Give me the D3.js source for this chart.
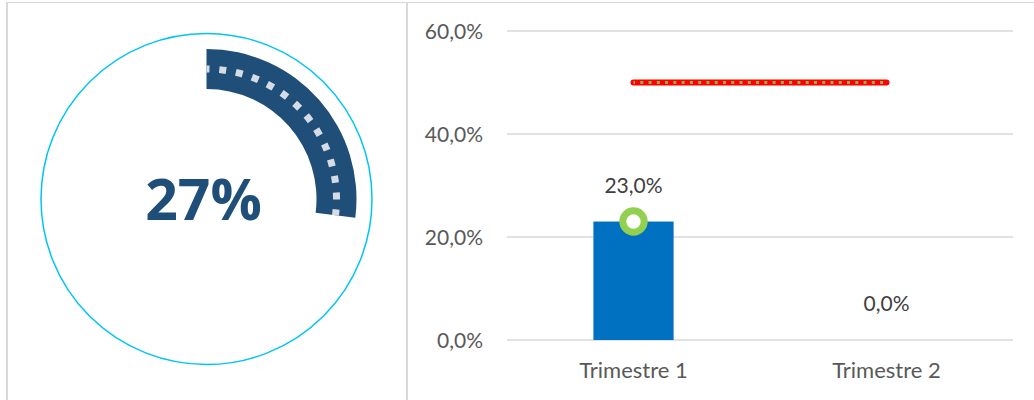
<!DOCTYPE html>
<html>
<head>
<meta charset="utf-8">
<script src="https://cdn.jsdelivr.net/npm/d3@7"></script>
<style>
  body { margin: 0; background: #fff; }
  svg { display: block; }
</style>
</head>
<body>
<script>
const width = 1034, height = 400;

// data
const gaugeValue = 0.27;
const categories = ["Trimestre 1", "Trimestre 2"];
const barValues = [0.23, 0.0];
const markerValues = [0.23, null];
const targetValues = [0.5, 0.5];
const yTicks = [0, 0.2, 0.4, 0.6];

const fmt = v => d3.format(".1f")(v * 100).replace(".", ",") + "%";

const svg = d3.select("body").append("svg")
    .attr("width", width)
    .attr("height", height);

// panel borders
svg.append("line").attr("x1", 7).attr("x2", 1034).attr("y1", 2.5).attr("y2", 2.5)
    .attr("stroke", "#d9d9d9").attr("stroke-width", 1);
svg.append("line").attr("x1", 7).attr("x2", 7).attr("y1", 2).attr("y2", height)
    .attr("stroke", "#d9d9d9").attr("stroke-width", 2);
svg.append("line").attr("x1", 407).attr("x2", 407).attr("y1", 2).attr("y2", height)
    .attr("stroke", "#d9d9d9").attr("stroke-width", 2);

// ---- gauge ----
const cx = 206.5, cy = 199;
const g = svg.append("g").attr("transform", `translate(${cx},${cy})`);

g.append("circle")
    .attr("r", 165.5)
    .attr("fill", "none")
    .attr("stroke", "#00c4f4")
    .attr("stroke-width", 1.5);

const end = gaugeValue * 2 * Math.PI;
g.append("path")
    .attr("d", d3.arc().innerRadius(110).outerRadius(150).startAngle(0).endAngle(end)())
    .attr("fill", "#1f4e79");

const midR = 130;
const midPath = d3.path();
midPath.arc(0, 0, midR, -Math.PI / 2, end - Math.PI / 2);
g.append("path")
    .attr("d", midPath.toString())
    .attr("fill", "none")
    .attr("stroke", "#d6dce5")
    .attr("stroke-width", 7)
    .attr("stroke-dasharray", "7 9.8")
    .attr("stroke-dashoffset", 4);

g.append("text")
    .attr("x", -3)
    .attr("y", 21)
    .attr("text-anchor", "middle")
    .attr("font-family", "'Open Sans', Lato, sans-serif")
    .attr("font-weight", "bold")
    .attr("font-size", 57)
    .attr("fill", "#1f4e79")
    .text(d3.format(".0%")(gaugeValue));

// ---- bar chart ----
const x = d3.scaleBand().domain(categories).range([507, 1013]);
const y = d3.scaleLinear().domain([0, 0.6]).range([340, 31]);
const font = "Lato, 'Open Sans', sans-serif";

svg.append("g")
    .selectAll("line")
    .data(yTicks)
    .join("line")
    .attr("x1", 507).attr("x2", 1013)
    .attr("y1", d => y(d)).attr("y2", d => y(d))
    .attr("stroke", "#d9d9d9")
    .attr("stroke-width", 1.5);

svg.append("g")
    .selectAll("text")
    .data(yTicks)
    .join("text")
    .attr("x", 483)
    .attr("y", d => y(d) + 7.5)
    .attr("text-anchor", "end")
    .attr("font-family", font)
    .attr("font-size", 21)
    .attr("fill", "#595959")
    .text(fmt);

svg.append("g")
    .selectAll("text")
    .data(categories)
    .join("text")
    .attr("x", d => x(d) + x.bandwidth() / 2)
    .attr("y", 378)
    .attr("text-anchor", "middle")
    .attr("font-family", font)
    .attr("font-size", 22)
    .attr("fill", "#595959")
    .text(d => d);

const barW = x.bandwidth() * 0.317;
svg.append("g")
    .selectAll("rect")
    .data(barValues)
    .join("rect")
    .attr("x", (d, i) => x(categories[i]) + x.bandwidth() / 2 - barW / 2)
    .attr("width", barW)
    .attr("y", d => y(d))
    .attr("height", d => y(0) - y(d))
    .attr("fill", "#0070c0");

svg.append("g")
    .selectAll("text")
    .data(barValues)
    .join("text")
    .attr("x", (d, i) => x(categories[i]) + x.bandwidth() / 2)
    .attr("y", d => y(d) - 29)
    .attr("text-anchor", "middle")
    .attr("font-family", font)
    .attr("font-size", 21)
    .attr("fill", "#404040")
    .text(fmt);

// target line
const line = d3.line()
    .x((d, i) => x(categories[i]) + x.bandwidth() / 2)
    .y(d => y(d));

svg.append("path")
    .attr("d", line(targetValues))
    .attr("fill", "none")
    .attr("stroke", "#ff0000")
    .attr("stroke-width", 6)
    .attr("stroke-linecap", "round");

svg.append("path")
    .attr("d", line(targetValues))
    .attr("fill", "none")
    .attr("stroke", "#8fb04c")
    .attr("stroke-width", 3)
    .attr("stroke-dasharray", "3 5.27")
    .attr("stroke-dashoffset", 1.5);

// marker
svg.append("g")
    .selectAll("circle")
    .data(markerValues.map((v, i) => ({ v, c: categories[i] })).filter(d => d.v != null))
    .join("circle")
    .attr("cx", d => x(d.c) + x.bandwidth() / 2)
    .attr("cy", d => y(d.v))
    .attr("r", 10.7)
    .attr("fill", "#fff")
    .attr("stroke", "#92d050")
    .attr("stroke-width", 7);
</script>
</body>
</html>
